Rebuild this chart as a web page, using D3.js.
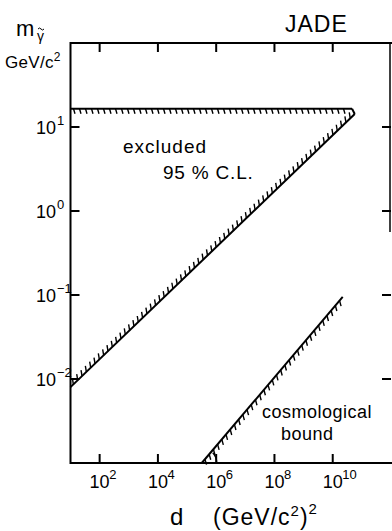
<!DOCTYPE html>
<html><head><meta charset="utf-8">
<script src="https://cdn.jsdelivr.net/npm/d3@7"></script>
<style>
html,body{margin:0;padding:0;background:#fff;}
svg{display:block;}
text{font-family:"Liberation Sans",Arial,sans-serif;fill:#000;}
</style></head>
<body>
<svg id="c" width="392" height="531"></svg>
<script>
// ---- data ----
const xTickExps = [2, 4, 6, 8, 10];
const yTickExps = [-2, -1, 0, 1];
const yTickLabels = ["\u22122", "\u22121", "0", "1"];
const xTickLabels = ["2", "4", "6", "8", "10"];
// upper limit on photino mass (horizontal line), [d, m]
const upperLimit = [[1e1, 16.5], [4.6e10, 16.5]];
// lower-d exclusion boundary, [d, m]
const massLimit = [[1e1, 0.008], [5.7e10, 14.3]];
// cosmological bound, [d, m]
const cosmoBound = [[3.2e5, 1e-3], [2.2e10, 0.095]];

const svg = d3.select("#c");
const L = 70.5, R = 391, T = 43, B = 463;
const x = d3.scaleLog().domain([1e1, 1e12]).range([L, R]);
const y = d3.scaleLog().domain([1e-3, 1e2]).range([B, T]);

// frame
svg.append("line").attr("x1", L).attr("x2", R + 1).attr("y1", T).attr("y2", T).attr("stroke", "#000").attr("stroke-width", 2);
svg.append("line").attr("x1", L).attr("x2", R + 1).attr("y1", B).attr("y2", B).attr("stroke", "#000").attr("stroke-width", 2);
svg.append("line").attr("x1", L).attr("x2", L).attr("y1", T - 1).attr("y2", B + 1).attr("stroke", "#000").attr("stroke-width", 2);
svg.append("line").attr("x1", R - 1).attr("x2", R - 1).attr("y1", T - 1).attr("y2", 232).attr("stroke", "#000").attr("stroke-width", 1.5);

// ticks
const tickLen = 9;
xTickExps.forEach(e => {
  const px = x(Math.pow(10, e));
  svg.append("line").attr("x1", px).attr("x2", px).attr("y1", T).attr("y2", T + tickLen).attr("stroke", "#000").attr("stroke-width", 2);
  svg.append("line").attr("x1", px).attr("x2", px).attr("y1", B).attr("y2", B - tickLen).attr("stroke", "#000").attr("stroke-width", 2);
});
yTickExps.forEach(e => {
  const py = y(Math.pow(10, e));
  svg.append("line").attr("x1", L).attr("x2", L + tickLen).attr("y1", py).attr("y2", py).attr("stroke", "#000").attr("stroke-width", 2);
  svg.append("line").attr("x1", R).attr("x2", R - tickLen).attr("y1", py).attr("y2", py).attr("stroke", "#000").attr("stroke-width", 2);
});

// tick labels
xTickExps.forEach((e, i) => {
  const px = x(Math.pow(10, e));
  svg.append("text").attr("x", px).attr("y", 488).attr("text-anchor", "middle").attr("font-size", 18).text("10");
  svg.append("text").attr("x", px + 9.5).attr("y", 479).attr("font-size", 13).text(xTickLabels[i]);
});
yTickExps.forEach((e, i) => {
  const py = y(Math.pow(10, e));
  svg.append("text").attr("x", 56).attr("y", py + 7).attr("text-anchor", "end").attr("font-size", 18).text("10");
  svg.append("text").attr("x", 57).attr("y", py - 2).attr("font-size", 13).text(yTickLabels[i]);
});

// lines
const line = d3.line().x(d => x(d[0])).y(d => y(d[1]));
function drawWithHatch(data, vec, spacing, startOff, endOff) {
  svg.append("path").attr("d", line(data)).attr("fill", "none").attr("stroke", "#000").attr("stroke-width", 2);
  const p0 = [x(data[0][0]), y(data[0][1])], p1 = [x(data[1][0]), y(data[1][1])];
  const len = Math.hypot(p1[0] - p0[0], p1[1] - p0[1]);
  const ux = (p1[0] - p0[0]) / len, uy = (p1[1] - p0[1]) / len;
  const g = svg.append("g").attr("stroke", "#000").attr("stroke-width", 1.4);
  for (let s = startOff; s <= len - endOff; s += spacing) {
    const hx = p0[0] + ux * s, hy = p0[1] + uy * s;
    g.append("line").attr("x1", hx).attr("y1", hy).attr("x2", hx + vec[0]).attr("y2", hy + vec[1]);
  }
}
drawWithHatch(upperLimit, [1.5, 5], 6, 3, 5);
drawWithHatch(massLimit, [-1, -6], 6, 4, 3);
drawWithHatch(cosmoBound, [1.5, 5.5], 6.5, 5, 2);
// corner link
svg.append("path").attr("d", line([upperLimit[1], massLimit[1]])).attr("fill", "none").attr("stroke", "#000").attr("stroke-width", 2);
// angle arc at base of cosmological bound
const cx0 = x(cosmoBound[0][0]), cy0 = y(cosmoBound[0][1]);
const arc = d3.arc().innerRadius(15).outerRadius(15).startAngle(Math.PI / 2 - 0.75).endAngle(Math.PI / 2);
svg.append("path").attr("d", arc()).attr("transform", `translate(${cx0},${cy0})`).attr("fill", "none").attr("stroke", "#000").attr("stroke-width", 1.3);

// texts
svg.append("text").attr("x", 285).attr("y", 32).attr("font-size", 23).attr("letter-spacing", 1).text("JADE");
svg.append("text").attr("x", 16).attr("y", 36).attr("font-size", 22).text("m");
svg.append("text").attr("x", 37).attr("y", 41).attr("font-size", 14).text("\u03B3");
// tilde over the gamma
svg.append("path").attr("d", "M38,29 q1.5,-2 3,0 t3,0").attr("fill", "none").attr("stroke", "#000").attr("stroke-width", 1);
const gl = svg.append("text").attr("x", 5).attr("y", 68).attr("font-size", 17).attr("letter-spacing", 0.3);
gl.append("tspan").text("GeV/c");
gl.append("tspan").attr("font-size", 12).attr("dy", -7).text("2");

svg.append("text").attr("x", 123).attr("y", 153).attr("font-size", 19).attr("letter-spacing", 1).text("excluded");
svg.append("text").attr("x", 163).attr("y", 179).attr("font-size", 19).attr("letter-spacing", 0.8).text("95 % C.L.");
svg.append("text").attr("x", 262).attr("y", 418).attr("font-size", 18).attr("letter-spacing", 0.5).text("cosmological");
svg.append("text").attr("x", 281).attr("y", 440).attr("font-size", 18).attr("letter-spacing", 0.5).text("bound");

svg.append("text").attr("x", 170).attr("y", 525).attr("font-size", 24).text("d");
const xl = svg.append("text").attr("x", 213).attr("y", 525).attr("font-size", 23).attr("letter-spacing", 1);
xl.append("tspan").text("(GeV/c");
xl.append("tspan").attr("font-size", 15).attr("dy", -9).text("2");
xl.append("tspan").attr("dy", 9).text(")");
xl.append("tspan").attr("font-size", 15).attr("dy", -11).text("2");
</script>
</body></html>
